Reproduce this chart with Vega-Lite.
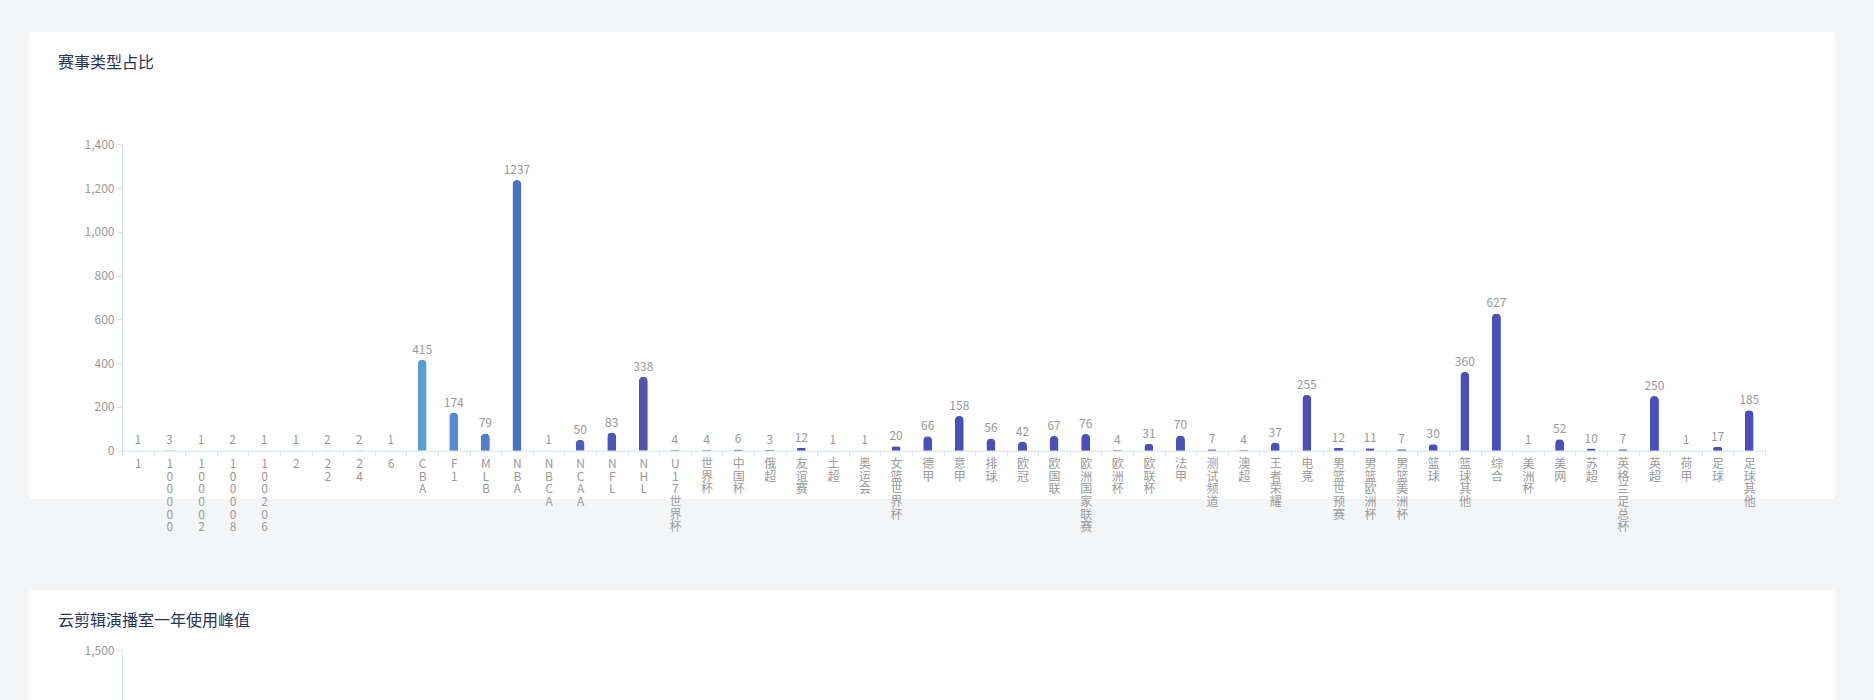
{
  "$schema": "https://vega.github.io/schema/vega-lite/v6.json",
  "background": "#f4f5f7",
  "padding": {"left": 29, "top": 32, "right": 39, "bottom": 0},
  "spacing": 91,
  "bounds": "flush",
  "config": {
    "font": "Noto Sans CJK SC",
    "view": {"fill": "white", "stroke": null, "cornerRadius": 4},
    "axis": {
      "labelFont": "Noto Sans CJK SC",
      "labelFontSize": 12,
      "labelColor": "#9a9a9a",
      "domainColor": "#d6e4f2",
      "tickColor": "#d6e4f2",
      "grid": false,
      "title": null
    },
    "title": {
      "anchor": "start",
      "frame": "group",
      "font": "Noto Sans CJK SC",
      "fontSize": 16,
      "fontWeight": "normal",
      "color": "#26345a",
      "baseline": "middle",
      "offset": 0,
      "dx": 29,
      "dy": 43
    }
  },
  "vconcat": [
    {
      "width": 1806,
      "height": 467,
      "title": {"text": "赛事类型占比"},
      "data": {
        "values": [
          {"name": "1", "value": 1},
          {"name": "100000", "value": 3},
          {"name": "100002", "value": 1},
          {"name": "100008", "value": 2},
          {"name": "100206", "value": 1},
          {"name": "2", "value": 1},
          {"name": "22", "value": 2},
          {"name": "24", "value": 2},
          {"name": "6", "value": 1},
          {"name": "CBA", "value": 415},
          {"name": "F1", "value": 174},
          {"name": "MLB", "value": 79},
          {"name": "NBA", "value": 1237},
          {"name": "NBCA", "value": 1},
          {"name": "NCAA", "value": 50},
          {"name": "NFL", "value": 83},
          {"name": "NHL", "value": 338},
          {"name": "U17世界杯", "value": 4},
          {"name": "世界杯", "value": 4},
          {"name": "中国杯", "value": 6},
          {"name": "俄超", "value": 3},
          {"name": "友谊赛", "value": 12},
          {"name": "土超", "value": 1},
          {"name": "奥运会", "value": 1},
          {"name": "女篮世界杯", "value": 20},
          {"name": "德甲", "value": 66},
          {"name": "意甲", "value": 158},
          {"name": "排球", "value": 56},
          {"name": "欧冠", "value": 42},
          {"name": "欧国联", "value": 67},
          {"name": "欧洲国家联赛", "value": 76},
          {"name": "欧洲杯", "value": 4},
          {"name": "欧联杯", "value": 31},
          {"name": "法甲", "value": 70},
          {"name": "测试频道", "value": 7},
          {"name": "澳超", "value": 4},
          {"name": "王者荣耀", "value": 37},
          {"name": "电竞", "value": 255},
          {"name": "男篮世预赛", "value": 12},
          {"name": "男篮欧洲杯", "value": 11},
          {"name": "男篮美洲杯", "value": 7},
          {"name": "篮球", "value": 30},
          {"name": "篮球其他", "value": 360},
          {"name": "综合", "value": 627},
          {"name": "美洲杯", "value": 1},
          {"name": "美网", "value": 52},
          {"name": "苏超", "value": 10},
          {"name": "英格兰足总杯", "value": 7},
          {"name": "英超", "value": 250},
          {"name": "荷甲", "value": 1},
          {"name": "足球", "value": 17},
          {"name": "足球其他", "value": 185}
        ]
      },
      "encoding": {
        "x": {
          "field": "name",
          "type": "nominal",
          "sort": null,
          "scale": {"range": [93, 1736], "paddingInner": 0, "paddingOuter": 0},
          "axis": {
            "orient": "bottom",
            "offset": -48.3,
            "tickBand": "extent",
            "tickSize": 5,
            "labelAngle": 0,
            "labelAlign": "center",
            "labelBaseline": "top",
            "labelPadding": 3,
            "labelLineHeight": 12.6,
            "labelOverlap": false,
            "labelFlush": false,
            "labelExpr": "split(datum.label, '')"
          }
        },
        "y": {
          "field": "value",
          "type": "quantitative",
          "scale": {"domain": [0, 1400], "range": [418.7, 112.3], "nice": false},
          "axis": {
            "offset": -93,
            "values": [0, 200, 400, 600, 800, 1000, 1200, 1400],
            "format": ",d",
            "tickSize": 5,
            "labelPadding": 3
          }
        }
      },
      "layer": [
        {
          "mark": {"type": "bar", "width": 9, "cornerRadiusTopLeft": 4.5, "cornerRadiusTopRight": 4.5},
          "encoding": {
            "color": {
              "field": "name",
              "type": "nominal",
              "legend": null,
              "scale": {
                "domain": ["1","100000","100002","100008","100206","2","22","24","6","CBA","F1","MLB","NBA","NBCA","NCAA","NFL","NHL","U17世界杯","世界杯","中国杯","俄超","友谊赛","土超","奥运会","女篮世界杯","德甲","意甲","排球","欧冠","欧国联","欧洲国家联赛","欧洲杯","欧联杯","法甲","测试频道","澳超","王者荣耀","电竞","男篮世预赛","男篮欧洲杯","男篮美洲杯","篮球","篮球其他","综合","美洲杯","美网","苏超","英格兰足总杯","英超","荷甲","足球","足球其他"],
                "range": ["#9fe0e0","#98dcdf","#93d8e0","#8ed3e0","#89cde0","#84c6df","#7fbfdf","#7ab7de","#74aedc","#5b9bd6","#558bd1","#4f7ecb","#4a72c4","#4b66c1","#4a5cbe","#4a55bb","#5552b0","#4a4fbb","#4a4fbb","#4a4fbb","#4a4fbb","#4a4fbb","#4a4fbb","#4a4fbb","#4a4fbb","#4a4fbb","#4a4fbb","#4a4fbb","#4a4fbb","#4a4fbb","#4a4fbb","#4a4fbb","#4a4fbb","#4a4fbb","#4a4fbb","#4a4fbb","#4a4fbb","#4a4fbb","#4a4fbb","#4a4fbb","#4a4fbb","#4a4fbb","#4a4fbb","#4a4fbb","#4a4fbb","#4a4fbb","#4a4fbb","#4a4fbb","#4a4fbb","#4a4fbb","#4a4fbb","#4a4fbb"]
              }
            }
          }
        },
        {
          "mark": {"type": "text", "baseline": "alphabetic", "dy": -6, "fontSize": 12, "color": "#999999", "font": "Noto Sans CJK SC"},
          "encoding": {"text": {"field": "value", "type": "quantitative"}}
        }
      ]
    },
    {
      "width": 1806,
      "height": 467,
      "title": {"text": "云剪辑演播室一年使用峰值"},
      "data": {"values": []},
      "mark": "point",
      "encoding": {
        "x": {"field": "month", "type": "ordinal", "axis": null},
        "y": {
          "field": "peak",
          "type": "quantitative",
          "scale": {"domain": [0, 1500], "range": [366, 60], "nice": false},
          "axis": {
            "offset": -93,
            "values": [1500],
            "format": ",d",
            "tickSize": 5,
            "labelPadding": 3
          }
        }
      }
    }
  ]
}
